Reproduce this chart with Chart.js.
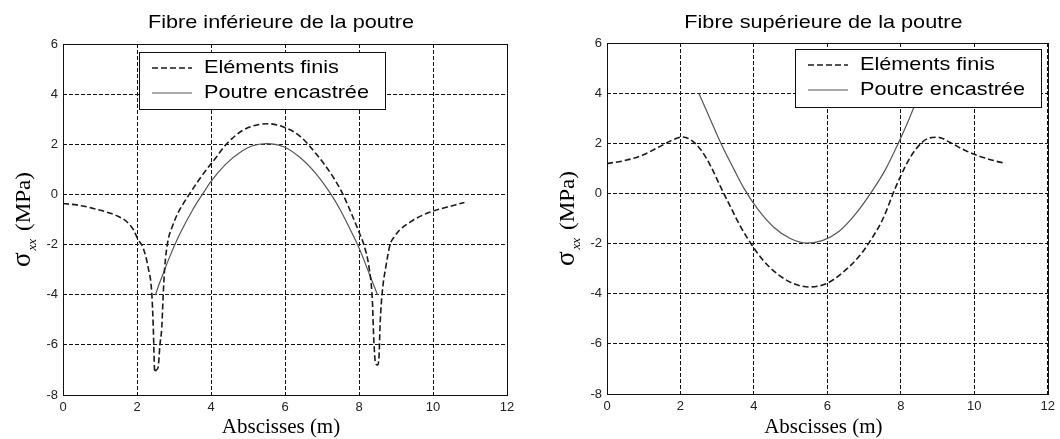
<!DOCTYPE html>
<html>
<head>
<meta charset="utf-8">
<script src="https://cdn.jsdelivr.net/npm/chart.js@4.4.1/dist/chart.umd.min.js"></script>
<style>
body { margin: 0; background: #fff; }
.panel { position: absolute; top: 0; width: 530px; height: 439px; }
</style>
</head>
<body>
<div class="panel" style="left:0"><canvas id="inf" width="530" height="439"></canvas></div>
<div class="panel" style="left:530px"><canvas id="sup" width="530" height="439"></canvas></div>
<script>
// Tick labels
const xTickValues = [0, 2, 4, 6, 8, 10, 12];
const yTickValues = [-8, -6, -4, -2, 0, 2, 4, 6];

// Fibre inferieure - elements finis
const feInfX = [0, 0.5, 0.82, 1.26, 1.5, 1.71, 1.9, 2.03, 2.17, 2.3, 2.4, 2.44, 2.48, 2.52, 2.57, 2.62, 2.67, 2.71, 2.75, 2.83, 2.95, 3.1, 3.25, 3.42, 3.6, 3.78, 4.13, 4.4, 4.85, 5.3, 5.55, 5.96, 6.4, 6.84, 7.29, 7.56, 7.82, 8.0, 8.13, 8.27, 8.36, 8.4, 8.45, 8.5, 8.54, 8.57, 8.6, 8.65, 8.72, 8.84, 8.95, 9.08, 9.44, 9.89, 10.34, 10.6, 10.85];
const feInfY = [-0.36, -0.45, -0.56, -0.74, -0.88, -1.07, -1.4, -1.8, -2.15, -2.9, -3.95, -5.3, -7.1, -7.0, -6.9, -6.0, -5.3, -3.95, -2.9, -1.9, -1.3, -0.76, -0.37, 0.02, 0.42, 0.8, 1.46, 1.98, 2.55, 2.79, 2.82, 2.69, 2.33, 1.62, 0.72, 0.02, -0.85, -1.5, -2.0, -2.9, -4.2, -5.8, -6.75, -6.8, -6.5, -5.2, -4.4, -3.6, -2.93, -2.0, -1.7, -1.45, -1.05, -0.72, -0.52, -0.42, -0.32];

// Fibre inferieure - poutre encastree
const beamInfX = [2.5, 2.58, 2.67, 2.88, 3.15, 3.51, 3.78, 4.0, 4.4, 4.85, 5.1, 5.5, 5.96, 6.4, 6.84, 7.2, 7.47, 7.73, 7.96, 8.13, 8.3, 8.5];
const beamInfY = [-4.0, -3.65, -3.3, -2.5, -1.6, -0.6, 0.03, 0.52, 1.21, 1.74, 1.93, 2.03, 1.9, 1.48, 0.82, 0.1, -0.55, -1.3, -2.0, -2.6, -3.25, -4.0];

// Fibre superieure - elements finis
const feSupX = [0, 0.51, 0.96, 1.41, 1.77, 2.05, 2.29, 2.56, 2.83, 3.09, 3.36, 3.64, 4.0, 4.27, 4.63, 5.08, 5.52, 5.97, 6.42, 6.87, 7.14, 7.5, 7.86, 8.12, 8.39, 8.75, 9.0, 9.38, 9.7, 10.0, 10.5, 10.85];
const feSupY = [1.19, 1.32, 1.52, 1.85, 2.12, 2.25, 2.13, 1.73, 1.07, 0.27, -0.53, -1.33, -2.18, -2.7, -3.2, -3.6, -3.73, -3.6, -3.15, -2.5, -1.95, -1.05, 0.25, 1.07, 1.73, 2.2, 2.24, 2.0, 1.75, 1.56, 1.32, 1.2];

// Fibre superieure - poutre encastree
const beamSupX = [2.5, 2.77, 3.1, 3.46, 3.73, 4.09, 4.54, 4.99, 5.43, 5.88, 6.33, 6.78, 7.22, 7.58, 7.85, 8.19, 8.37, 8.5];
const beamSupY = [4.0, 3.1, 2.0, 0.95, 0.2, -0.6, -1.35, -1.8, -1.98, -1.87, -1.5, -0.8, 0.1, 0.95, 1.75, 2.85, 3.5, 4.0];

const SANS = '"Liberation Sans", Arial, sans-serif';
const SERIF = '"Liberation Serif", "Times New Roman", serif';
const STRETCH = 1.14;

function toPoints(xs, ys) {
    return xs.map((x, i) => ({ x: x, y: ys[i] }));
}

// text drawn a bit wider, like the scanned figure
function stretchText(ctx, text, x, y, font, align) {
    ctx.save();
    ctx.font = font;
    ctx.textAlign = align;
    ctx.textBaseline = 'middle';
    ctx.translate(x, y);
    ctx.scale(STRETCH, 1);
    ctx.fillText(text, 0, 0);
    ctx.restore();
}

// frame, titles, y label with subscript and boxed legend
const matlabLook = {
    id: 'matlabLook',
    afterDraw(chart, args, opts) {
        const ctx = chart.ctx;
        const a = chart.chartArea;
        ctx.save();
        ctx.setLineDash([]);
        ctx.strokeStyle = '#111';
        ctx.lineWidth = 1;
        ctx.strokeRect(Math.round(a.left) + 0.5, Math.round(a.top) + 0.5, Math.round(a.right - a.left), Math.round(a.bottom - a.top));

        ctx.fillStyle = '#000';
        const cx = (a.left + a.right) / 2 - 4;
        stretchText(ctx, opts.title, cx, 23, '19px ' + SANS, 'center');

        ctx.font = '21px ' + SERIF;
        ctx.textAlign = 'center';
        ctx.textBaseline = 'middle';
        ctx.fillText('Abscisses (m)', cx, 427);

        // y label: sigma_xx (MPa)
        ctx.save();
        ctx.translate(a.left - 33, (a.top + a.bottom) / 2);
        ctx.rotate(-Math.PI / 2);
        ctx.textAlign = 'left';
        ctx.textBaseline = 'alphabetic';
        const fSig = '27px ' + SERIF, fSub = 'italic 13px ' + SERIF, fUnit = '21px ' + SERIF;
        ctx.font = fSig; const wSig = ctx.measureText('σ').width;
        ctx.font = fSub; const wSub = ctx.measureText('xx').width;
        ctx.font = fUnit; const wUnit = ctx.measureText('(MPa)').width * 1.1;
        const total = wSig + 2 + wSub + 8 + wUnit;
        let px = -total / 2;
        ctx.font = fSig; ctx.fillText('σ', px, 0);
        px += wSig + 2;
        ctx.font = fSub; ctx.fillText('xx', px, 6);
        px += wSub + 8;
        ctx.save();
        ctx.translate(px, 0);
        ctx.scale(1.1, 1);
        ctx.font = fUnit; ctx.fillText('(MPa)', 0, 0);
        ctx.restore();
        ctx.restore();

        // legend box
        const L = opts.legend;
        const bx = Math.round(a.left + L.dx), by = Math.round(a.top + L.dy);
        ctx.fillStyle = '#fff';
        ctx.fillRect(bx, by, L.w, L.h);
        ctx.strokeStyle = '#111';
        ctx.strokeRect(bx + 0.5, by + 0.5, L.w, L.h);
        chart.data.datasets.forEach((ds, i) => {
            const yy = by + 16 + i * 25;
            ctx.save();
            ctx.strokeStyle = ds.borderColor;
            ctx.lineWidth = ds.borderWidth;
            ctx.setLineDash(ds.borderDash || []);
            ctx.beginPath();
            ctx.moveTo(bx + 13, yy);
            ctx.lineTo(bx + 53, yy);
            ctx.stroke();
            ctx.restore();
            ctx.fillStyle = '#000';
            stretchText(ctx, ds.label, bx + 65, yy, '19px ' + SANS, 'left');
        });
        ctx.restore();
    }
};

function makeChart(id, title, fe, beam, area, legendBox) {
    return new Chart(document.getElementById(id), {
        type: 'line',
        data: {
            datasets: [
                {
                    label: 'Eléments finis',
                    data: fe,
                    borderColor: '#1a1a1a',
                    borderWidth: 1.6,
                    borderDash: [6, 3],
                    pointRadius: 0,
                    cubicInterpolationMode: 'monotone',
                    fill: false
                },
                {
                    label: 'Poutre encastrée',
                    data: beam,
                    borderColor: '#555',
                    borderWidth: 1.2,
                    pointRadius: 0,
                    cubicInterpolationMode: 'monotone',
                    fill: false
                }
            ]
        },
        options: {
            responsive: false,
            animation: false,
            devicePixelRatio: 1,
            layout: {
                padding: { left: 0, right: area.padRight, top: area.top, bottom: 0 }
            },
            plugins: {
                legend: { display: false },
                tooltip: { enabled: false },
                title: { display: false },
                matlabLook: { title: title, legend: legendBox }
            },
            scales: {
                x: {
                    type: 'linear',
                    min: 0,
                    max: 12,
                    afterBuildTicks: s => { s.ticks = xTickValues.map(v => ({ value: v })); },
                    afterFit: s => { s.height = 439 - area.bottom; },
                    ticks: { padding: 5, color: '#222', maxRotation: 0, font: { family: SANS, size: 13 } },
                    grid: { color: '#111', lineWidth: 1, drawTicks: false },
                    border: { display: false, dash: [4, 2] }
                },
                y: {
                    type: 'linear',
                    min: -8,
                    max: 6,
                    afterBuildTicks: s => { s.ticks = yTickValues.map(v => ({ value: v })); },
                    afterFit: s => { s.width = area.left; },
                    ticks: { padding: 5, color: '#222', font: { family: SANS, size: 13 } },
                    grid: { color: '#111', lineWidth: 1, drawTicks: false },
                    border: { display: false, dash: [4, 2] }
                }
            }
        },
        plugins: [matlabLook]
    });
}

makeChart('inf', 'Fibre inférieure de la poutre',
    toPoints(feInfX, feInfY), toPoints(beamInfX, beamInfY),
    { left: 63, padRight: 23, top: 44, bottom: 395 },
    { dx: 76, dy: 8, w: 246, h: 57 });

makeChart('sup', 'Fibre supérieure de la poutre',
    toPoints(feSupX, feSupY), toPoints(beamSupX, beamSupY),
    { left: 77, padRight: 9, top: 43, bottom: 394 },
    { dx: 188, dy: 6, w: 246, h: 58 });
</script>
</body>
</html>
